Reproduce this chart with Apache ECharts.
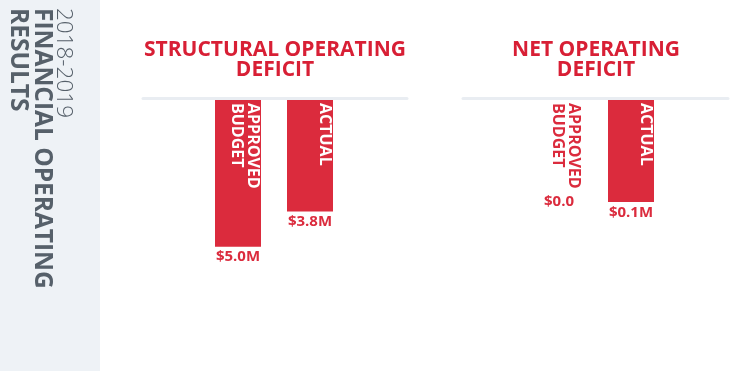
<!DOCTYPE html>
<html>
<head>
<meta charset="utf-8">
<script src="https://cdn.jsdelivr.net/npm/echarts@6/dist/echarts.min.js"></script>
<style>
html,body{margin:0;padding:0;background:#ffffff;}
#chart{width:752px;height:371px;}
</style>
</head>
<body>
<div id="chart"></div>
<script>
// ---- data ----
const categories = ['APPROVED\nBUDGET', 'ACTUAL'];
const structuralValues = [5.0, 3.8];
const netValues = [0.0, 0.1];
const panelTitles = ['STRUCTURAL OPERATING\nDEFICIT', 'NET OPERATING\nDEFICIT'];
const sideTitleLines = ['2018-2019', 'FINANCIAL OPERATING', 'RESULTS'];

// ---- styles ----
const RED = '#db2b3d';
const TITLE_RED = '#d81f35';
const GREY_TEXT = '#56606a';
const SIDEBAR = '#eef2f6';
const RULE = '#e9edf2';
const FONT = '"Open Sans", "Lato", sans-serif';

function fmtValue(v) {
  return v === 0 ? '$0.0' : '$' + v.toFixed(1) + 'M';
}

function nameSeries(values, idx) {
  return {
    type: 'bar',
    xAxisIndex: idx, yAxisIndex: idx,
    barWidth: 46,
    barGap: '-100%',
    data: values.map(v => ({
      value: v,
      label: { color: v === 0 ? RED : '#ffffff' }
    })),
    itemStyle: { color: RED },
    label: {
      show: true,
      formatter: '{b}',
      rotate: -90,
      position: ['100%', 3],
      align: 'left',
      verticalAlign: 'top',
      fontFamily: FONT,
      fontWeight: 'bold',
      fontSize: 16,
      lineHeight: 16
    }
  };
}

function valueSeries(values, idx) {
  return {
    type: 'bar',
    xAxisIndex: idx, yAxisIndex: idx,
    barWidth: 46,
    barGap: '-100%',
    data: values.map(v => ({
      value: v,
      label: { distance: v === 0 ? 94 : 3 }
    })),
    itemStyle: { color: 'rgba(0,0,0,0)' },
    label: {
      show: true,
      position: 'bottom',
      formatter: p => fmtValue(p.value),
      color: RED,
      fontFamily: FONT,
      fontWeight: 'bold',
      fontSize: 15
    }
  };
}

const chart = echarts.init(document.getElementById('chart'), null, { renderer: 'canvas' });

const sideX = [63.8, 41.5, 18];
const sideFonts = ['300 22.5px ' + FONT, 'bold 24.5px ' + FONT, 'bold 24.5px ' + FONT];

const option = {
  animation: false,
  backgroundColor: '#ffffff',
  title: panelTitles.map((t, i) => ({
    text: t,
    left: i === 0 ? 275 : 596,
    top: 40,
    padding: 0,
    textAlign: 'center',
    textStyle: {
      color: TITLE_RED,
      fontFamily: FONT,
      fontWeight: 'bold',
      fontSize: 21,
      lineHeight: 20
    }
  })),
  graphic: [
    { type: 'rect', x: 0, y: 0, z: -10, shape: { x: 0, y: 0, width: 100, height: 371 }, style: { fill: SIDEBAR } }
  ].concat(sideTitleLines.map((t, i) => ({
    type: 'text',
    x: sideX[i],
    y: 8,
    rotation: -Math.PI / 2,
    style: {
      text: t,
      fill: GREY_TEXT,
      font: sideFonts[i],
      textAlign: 'left',
      align: 'left',
      textVerticalAlign: 'middle',
      verticalAlign: 'middle'
    }
  }))),
  grid: [
    { left: 202, top: 100, width: 144, height: 220 },
    { left: 523, top: 100, width: 144, height: 204 },
    { left: 143, top: 97.5, width: 264, height: 1 },
    { left: 463, top: 97.5, width: 265, height: 1 }
  ],
  xAxis: [
    { type: 'category', gridIndex: 0, data: categories, show: false },
    { type: 'category', gridIndex: 1, data: categories, show: false },
    { type: 'value', gridIndex: 2, min: 0, max: 1, position: 'top',
      axisLine: { show: true, lineStyle: { color: RULE, width: 3 } },
      axisTick: { show: false }, axisLabel: { show: false }, splitLine: { show: false } },
    { type: 'value', gridIndex: 3, min: 0, max: 1, position: 'top',
      axisLine: { show: true, lineStyle: { color: RULE, width: 3 } },
      axisTick: { show: false }, axisLabel: { show: false }, splitLine: { show: false } }
  ],
  yAxis: [
    { type: 'value', gridIndex: 0, min: 0, max: 7.5, inverse: true, show: false },
    { type: 'value', gridIndex: 1, min: 0, max: 0.2, inverse: true, show: false },
    { type: 'value', gridIndex: 2, min: 0, max: 1, show: false },
    { type: 'value', gridIndex: 3, min: 0, max: 1, show: false }
  ],
  series: [
    nameSeries(structuralValues, 0),
    valueSeries(structuralValues, 0),
    nameSeries(netValues, 1),
    valueSeries(netValues, 1)
  ]
};

chart.setOption(option);
</script>
</body>
</html>
